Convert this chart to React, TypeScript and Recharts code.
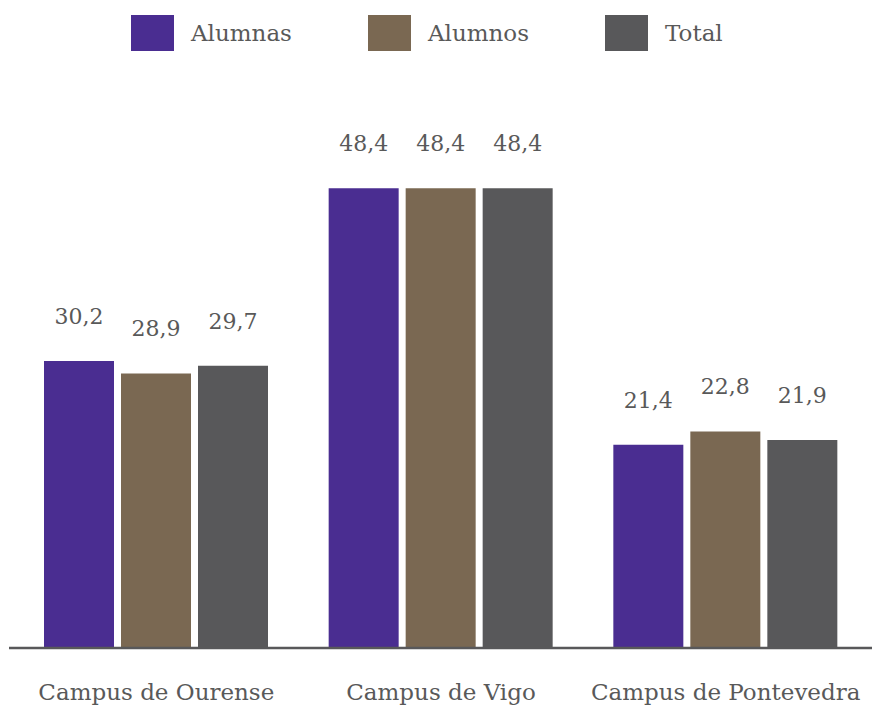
import { BarChart, Bar, XAxis, YAxis, LabelList } from 'recharts'

const campuses = ['Campus de Ourense', 'Campus de Vigo', 'Campus de Pontevedra']
const alumnas = [30.2, 48.4, 21.4]
const alumnos = [28.9, 48.4, 22.8]
const total = [29.7, 48.4, 21.9]

const FONT = '"DejaVu Serif", serif'
const TEXT = '#595959'

const series = [
  { key: 'alumnas', name: 'Alumnas', color: '#4a2d91' },
  { key: 'alumnos', name: 'Alumnos', color: '#7a6852' },
  { key: 'total', name: 'Total', color: '#58585a' },
]

const data = campuses.map((campus, i) => ({
  campus,
  alumnas: alumnas[i],
  alumnos: alumnos[i],
  total: total[i],
}))

const fmt = (v: number) => v.toFixed(1).replace('.', ',')

export default function App() {
  return (
    <div style={{ position: 'absolute', left: 0, top: 0, width: 877, height: 709, background: '#fff' }}>
      <div
        style={{
          position: 'absolute',
          left: 131,
          top: 15,
          display: 'flex',
          alignItems: 'center',
          gap: 76,
          fontFamily: FONT,
          fontSize: 23,
          color: TEXT,
        }}
      >
        {series.map(s => (
          <div key={s.key} style={{ display: 'flex', alignItems: 'center', gap: 17 }}>
            <div style={{ width: 43, height: 36, background: s.color }} />
            <span>{s.name}</span>
          </div>
        ))}
      </div>
      <BarChart
        width={877}
        height={709}
        data={data}
        margin={{ top: 78, right: 5, bottom: 6, left: 9 }}
        barSize={70}
        barGap={7}
      >
        <XAxis
          dataKey="campus"
          height={55}
          padding={{ left: 5, right: 4 }}
          axisLine={{ stroke: '#58585a', strokeWidth: 2.5 }}
          tickLine={false}
          tickSize={0}
          tickMargin={36}
          tick={{ fill: TEXT, fontSize: 23, fontFamily: FONT }}
          interval={0}
        />
        <YAxis hide domain={[0, 60]} />
        {series.map(s => (
          <Bar key={s.key} dataKey={s.key} name={s.name} fill={s.color} isAnimationActive={false}>
            <LabelList
              dataKey={s.key}
              position="top"
              offset={37}
              formatter={(v: any) => fmt(Number(v))}
              style={{ fill: TEXT, fontSize: 22, fontFamily: FONT }}
            />
          </Bar>
        ))}
      </BarChart>
    </div>
  )
}
